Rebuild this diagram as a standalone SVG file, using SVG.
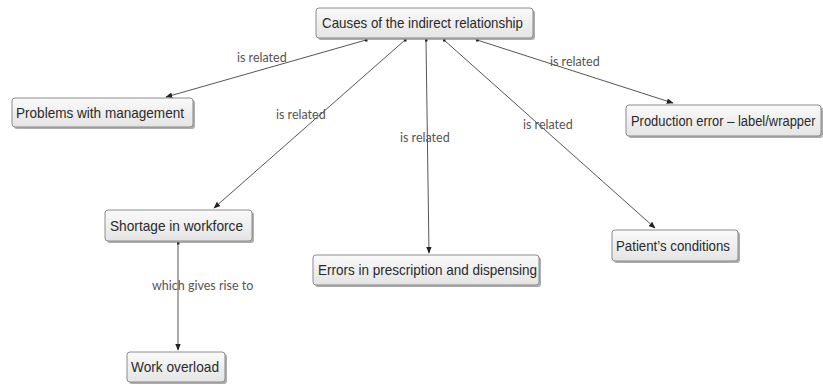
<svg xmlns="http://www.w3.org/2000/svg" width="823" height="385" viewBox="0 0 823 385">
<defs>
<linearGradient id="g" x1="0" y1="0" x2="0" y2="1">
<stop offset="0" stop-color="#fafafa"/>
<stop offset="1" stop-color="#e4e4e4"/>
</linearGradient>
<marker id="ah" viewBox="0 0 10 10" refX="9" refY="5" markerWidth="7" markerHeight="7" orient="auto">
<path d="M0,1 L10,5 L0,9 z" fill="#222"/>
</marker>
<marker id="dot" viewBox="0 0 4 4" refX="2" refY="2" markerWidth="3" markerHeight="3">
<rect width="4" height="4" fill="#222"/>
</marker>
</defs>
<style>
.sh{fill:#8a8a8a;opacity:.7}
.bx{fill:url(#g);stroke:#8c8c8c;stroke-width:1}
.t{font-family:"Liberation Sans",Arial,sans-serif;font-size:15px;fill:#2a2a2a}
.c{stroke:#555;stroke-width:1;fill:none;marker-end:url(#ah);marker-start:url(#dot)}
.l{font-family:Lato,"Open Sans",sans-serif;font-size:12.5px;fill:#555}
</style>
<rect width="823" height="385" fill="#fff"/>
<g id="connectors">
<line class="c" x1="366" y1="40" x2="166" y2="97"/>
<line class="c" x1="405" y1="40" x2="214" y2="208"/>
<line class="c" x1="426" y1="40" x2="429" y2="253"/>
<line class="c" x1="444" y1="40" x2="655" y2="228"/>
<line class="c" x1="477" y1="40" x2="673" y2="103"/>
<line class="c" x1="178" y1="243" x2="178" y2="350"/>
<text class="l" x="237" y="62">is related</text>
<text class="l" x="276" y="119">is related</text>
<text class="l" x="400" y="142">is related</text>
<text class="l" x="523" y="129">is related</text>
<text class="l" x="550" y="66">is related</text>
<text class="l" x="152" y="290">which gives rise to</text>
</g>
<g id="n-causes">
<rect class="sh" x="318" y="10" width="217" height="30" rx="3"/>
<rect class="bx" x="316" y="8" width="217" height="30" rx="3"/>
<text class="t" x="322" y="28" textLength="201" lengthAdjust="spacingAndGlyphs">Causes of the indirect relationship</text>
</g>
<g id="n-management">
<rect class="sh" x="14" y="100" width="181" height="29" rx="3"/>
<rect class="bx" x="12" y="98" width="181" height="29" rx="3"/>
<text class="t" x="16" y="118" textLength="168" lengthAdjust="spacingAndGlyphs">Problems with management</text>
</g>
<g id="n-production">
<rect class="sh" x="628" y="107" width="195" height="31" rx="3"/>
<rect class="bx" x="626" y="105" width="195" height="31" rx="3"/>
<text class="t" transform="translate(631,126) scale(0.82,1)" x="0" y="0" textLength="225" lengthAdjust="spacingAndGlyphs">Production error – label/wrapper</text>
</g>
<g id="n-shortage">
<rect class="sh" x="107" y="212" width="147" height="31" rx="3"/>
<rect class="bx" x="105" y="210" width="147" height="31" rx="3"/>
<text class="t" x="110" y="231" textLength="133" lengthAdjust="spacingAndGlyphs">Shortage in workforce</text>
</g>
<g id="n-errors">
<rect class="sh" x="315" y="257" width="226" height="30" rx="3"/>
<rect class="bx" x="313" y="255" width="226" height="30" rx="3"/>
<text class="t" x="318" y="275" textLength="219" lengthAdjust="spacingAndGlyphs">Errors in prescription and dispensing</text>
</g>
<g id="n-patient">
<rect class="sh" x="614" y="232" width="126" height="31" rx="3"/>
<rect class="bx" x="612" y="230" width="126" height="31" rx="3"/>
<text class="t" x="616" y="251" textLength="114" lengthAdjust="spacingAndGlyphs">Patient’s conditions</text>
</g>
<g id="n-overload">
<rect class="sh" x="129" y="354" width="98" height="30" rx="3"/>
<rect class="bx" x="127" y="352" width="98" height="30" rx="3"/>
<text class="t" x="131" y="372" textLength="88" lengthAdjust="spacingAndGlyphs">Work overload</text>
</g>
</svg>
